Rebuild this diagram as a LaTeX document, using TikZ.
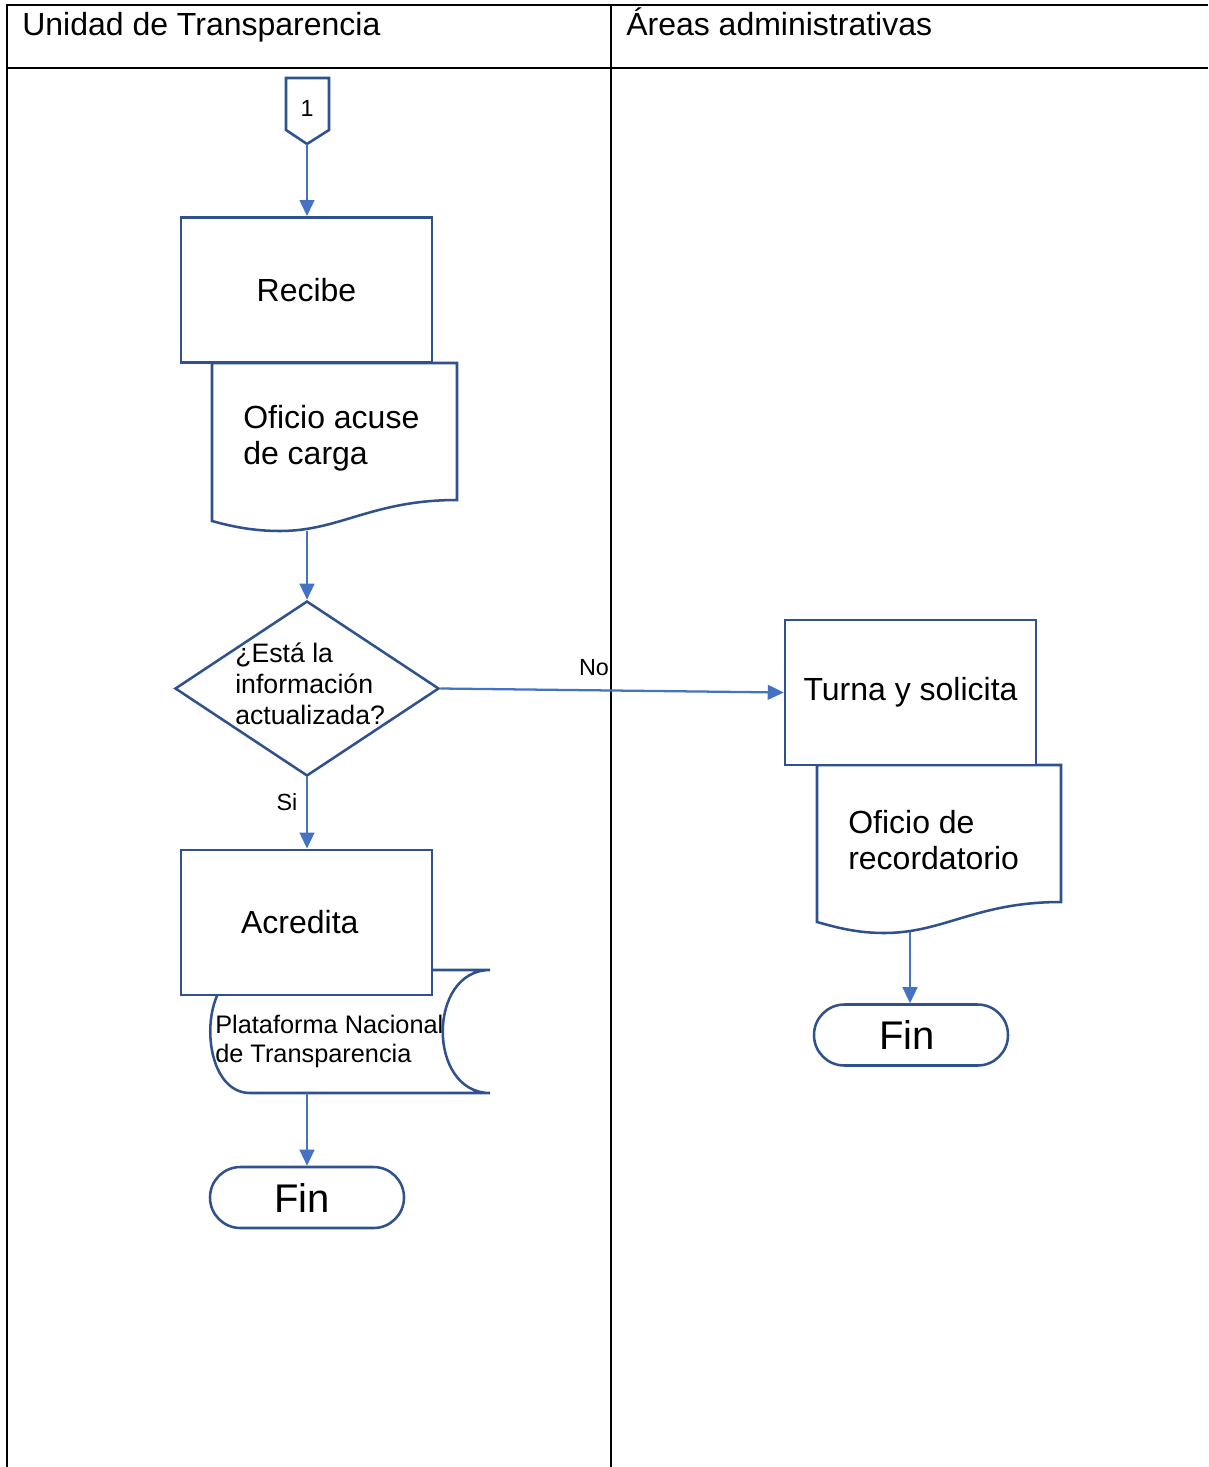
\documentclass[tikz,border=0pt]{standalone}
\usepackage{fontspec}
\setmainfont{Liberation Sans}
\usetikzlibrary{calc, shapes, arrows.meta, positioning}
\definecolor{shapeblue}{RGB}{47,82,143}
\definecolor{flowblue}{RGB}{68,114,196}
\tikzstyle{process} = [rectangle, draw=shapeblue, line width=1.9pt, fill=white, minimum width=188.25pt, minimum height=109pt, inner sep=0pt, font=\fontsize{24}{27}\selectfont]
\tikzstyle{terminator} = [rectangle, draw=shapeblue, line width=1.9pt, fill=white, rounded corners=22.8pt, minimum width=145.5pt, minimum height=45.75pt, inner sep=0pt, font=\fontsize{30}{34}\selectfont]
\tikzstyle{decision} = [diamond, draw=shapeblue, line width=1.9pt, fill=white, minimum width=198pt, minimum height=131.25pt, inner sep=0pt]
\tikzstyle{symbol} = [draw=shapeblue, line width=1.9pt, fill=white]
\tikzstyle{flow} = [draw=flowblue, line width=1.7pt, -{Triangle[length=12pt, width=11pt]}]
\tikzstyle{lane} = [draw=black, line width=1.3pt]
\tikzstyle{label} = [inner sep=0pt, font=\fontsize{17.5}{20}\selectfont]

\begin{document}
\begin{tikzpicture}[x=0.75pt, y=-0.75pt]
        \useasboundingbox (0,0) rectangle (1208,1467);
        % lanes
        \draw[lane] (7,1467) -- (7,5) -- (1208,5);
        \draw[lane] (7,68) -- (1208,68);
        \draw[lane] (611,5) -- (611,1467);
        \node[anchor=base west, inner sep=0pt, font=\fontsize{24}{27}\selectfont] (LaneUT) at (22,35) {Unidad de Transparencia};
        \node[anchor=base west, inner sep=0pt, font=\fontsize{24}{27}\selectfont] (LaneAA) at (626,35) {Áreas administrativas};

        % Unidad de Transparencia
        \draw[symbol] (286,78) -- (329,78) -- (329,130) -- (307,144) -- (286,130) -- cycle;
        \node[label] (Conn) at (307,108) {1};
        \coordinate (ConnTip) at (307,144);

        \draw[symbol] (212,363) -- (457,363) -- (457,500) .. controls (372,500) and (340,531) .. (280,531) .. controls (252,531) and (230,526) .. (212,521) -- cycle;
        \node[process] (Recibe) at (306.5,290) {Recibe};
        \node[anchor=west, align=left, inner sep=0pt, font=\fontsize{24}{27}\selectfont] (Acuse) at (243,438) {Oficio acuse\\de carga};
        \coordinate (AcuseBottom) at (307,531);

        \node[decision] (Check) at (307,688.5) {};
        \node[anchor=west, align=left, inner sep=0pt, font=\fontsize{20}{23.25}\selectfont] (CheckText) at (235,684) {¿Está la\\información\\actualizada?};

        \draw[symbol] (250,970) -- (490,970) .. controls (427,970) and (427,1093) .. (490,1093) -- (250,1093) .. controls (197,1093) and (197,970) .. (250,970) -- cycle;
        \node[process] (Acredita) at (306.5,922.5) {\hspace*{-10pt}Acredita};
        \node[anchor=west, align=left, inner sep=0pt, font=\fontsize{19}{21.75}\selectfont] (Plataforma) at (215,1041) {Plataforma Nacional\\de Transparencia};
        \coordinate (PlataformaBottom) at (307,1093);
        \node[terminator] (FinUT) at (307,1197.5) {\hspace*{-7pt}Fin};

        % Areas administrativas
        \draw[symbol] (817,765) -- (1061,765) -- (1061,902) .. controls (976,902) and (944,933) .. (884,933) .. controls (856,933) and (835,927) .. (817,922) -- cycle;
        \node[process] (Turna) at (910.5,692.5) {Turna y solicita};
        \node[anchor=west, align=left, inner sep=0pt, font=\fontsize{24}{27}\selectfont] (Recordatorio) at (848,840) {Oficio de\\recordatorio};
        \coordinate (RecordatorioBottom) at (910,932);
        \node[terminator] (FinAA) at (911,1035) {\hspace*{-6pt}Fin};

        % flow
        \draw[flow] (ConnTip) -- (ConnTip |- Recibe.north);
        \draw[flow] (AcuseBottom) -- (Check.north);
        \draw[flow] (Check.south) -- (Check.south |- Acredita.north);
        \draw[flow] (Check.east) -- (Turna.west);
        \draw[flow] (PlataformaBottom) -- (FinUT.north);
        \draw[flow] (RecordatorioBottom) -- (RecordatorioBottom |- FinAA.north);
        \node[label] (Si) at (287,802) {Si};
        \node[label] (No) at (594,668) {No};
\end{tikzpicture}
\end{document}
